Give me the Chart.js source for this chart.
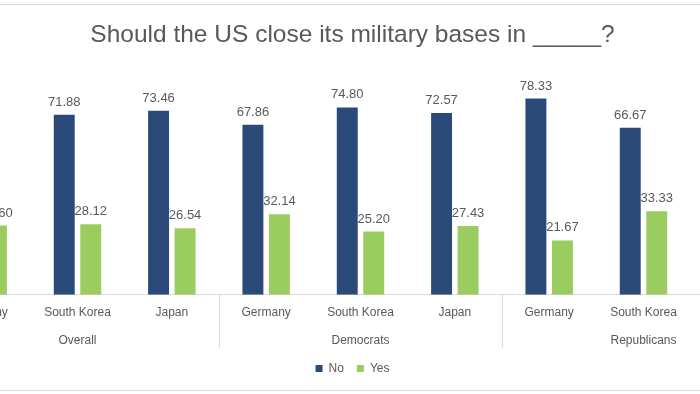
<!DOCTYPE html>
<html>
<head>
<meta charset="utf-8">
<script src="https://cdn.jsdelivr.net/npm/chart.js@4/dist/chart.umd.min.js"></script>
<style>
  html, body { margin: 0; padding: 0; background: #fff; overflow: hidden; width: 700px; height: 394px; }
  #frame { position: absolute; left: -10px; width: 720px; top: 4px; height: 385px; border-top: 1px solid #d9d9d9; border-bottom: 1px solid #d9d9d9; }
  #wrap { position: absolute; left: -100px; top: 0; width: 904px; height: 394px; }
</style>
</head>
<body>
<div id="frame"></div>
<div id="wrap"><canvas id="myChart"></canvas></div>
<script>
const countries = ['Germany', 'South Korea', 'Japan', 'Germany', 'South Korea', 'Japan', 'Germany', 'South Korea', 'Japan'];
const groups = ['Overall', 'Democrats', 'Republicans'];
const noValues = [72.40, 71.88, 73.46, 67.86, 74.80, 72.57, 78.33, 66.67, 80.00];
const yesValues = [27.60, 28.12, 26.54, 32.14, 25.20, 27.43, 21.67, 33.33, 20.00];

const textColor = '#595959';
const fontName = "'Liberation Sans', Arial, sans-serif";

// numbers above each bar
const valueLabels = {
  id: 'valueLabels',
  afterDatasetsDraw(chart) {
    const ctx = chart.ctx;
    ctx.save();
    ctx.font = '13px ' + fontName;
    ctx.fillStyle = textColor;
    ctx.textAlign = 'center';
    ctx.textBaseline = 'alphabetic';
    chart.data.datasets.forEach((ds, i) => {
      chart.getDatasetMeta(i).data.forEach((bar, j) => {
        ctx.fillText(ds.data[j].toFixed(2), bar.x, bar.y - 9);
      });
    });
    ctx.restore();
  }
};

// lines between the groups
const groupLines = {
  id: 'groupLines',
  afterDraw(chart) {
    const x = chart.scales.x;
    const x2 = chart.scales.x2;
    const ctx = chart.ctx;
    ctx.save();
    ctx.strokeStyle = '#d9d9d9';
    ctx.lineWidth = 1;
    [3, 6].forEach(k => {
      const px = Math.round((x.getPixelForValue(k - 1) + x.getPixelForValue(k)) / 2) + 0.5;
      ctx.beginPath();
      ctx.moveTo(px, x.top);
      ctx.lineTo(px, x2.bottom - 2);
      ctx.stroke();
    });
    ctx.restore();
  }
};

const ctx = document.getElementById('myChart');

new Chart(ctx, {
  type: 'bar',
  data: {
    labels: countries,
    datasets: [{
      label: 'No',
      data: noValues,
      backgroundColor: '#2b4a7a',
      categoryPercentage: 0.562,
      barPercentage: 0.79
    }, {
      label: 'Yes',
      data: yesValues,
      backgroundColor: '#9bcc60',
      categoryPercentage: 0.562,
      barPercentage: 0.79
    }]
  },
  options: {
    responsive: true,
    maintainAspectRatio: false,
    animation: false,
    layout: { padding: { left: 20, right: 19, top: 0, bottom: 9.5 } },
    plugins: {
      title: {
        display: true,
        text: 'Should the US close its military bases in _____?',
        color: textColor,
        font: { family: fontName, size: 24.5, weight: 'normal' },
        padding: { top: 21, bottom: 19 }
      },
      legend: {
        position: 'bottom',
        labels: {
          color: textColor,
          font: { family: fontName, size: 12 },
          boxWidth: 7,
          boxHeight: 7,
          padding: 13
        }
      },
      tooltip: { enabled: false }
    },
    scales: {
      y: {
        display: true, min: 0, max: 90,
        grid: { display: false, drawTicks: false },
        border: { display: false },
        ticks: { display: false },
        afterFit(scale) { scale.width = 16; }
      },
      x: {
        grid: { display: false, drawTicks: false },
        border: { display: true, color: '#d9d9d9' },
        ticks: { color: textColor, font: { family: fontName, size: 12 }, padding: 11 }
      },
      x2: {
        type: 'category',
        labels: groups,
        position: 'bottom',
        offset: true,
        grid: { display: false, drawTicks: false },
        border: { display: false },
        ticks: { color: textColor, font: { family: fontName, size: 12 }, padding: 2 }
      }
    }
  },
  plugins: [valueLabels, groupLines]
});
</script>
</body>
</html>
